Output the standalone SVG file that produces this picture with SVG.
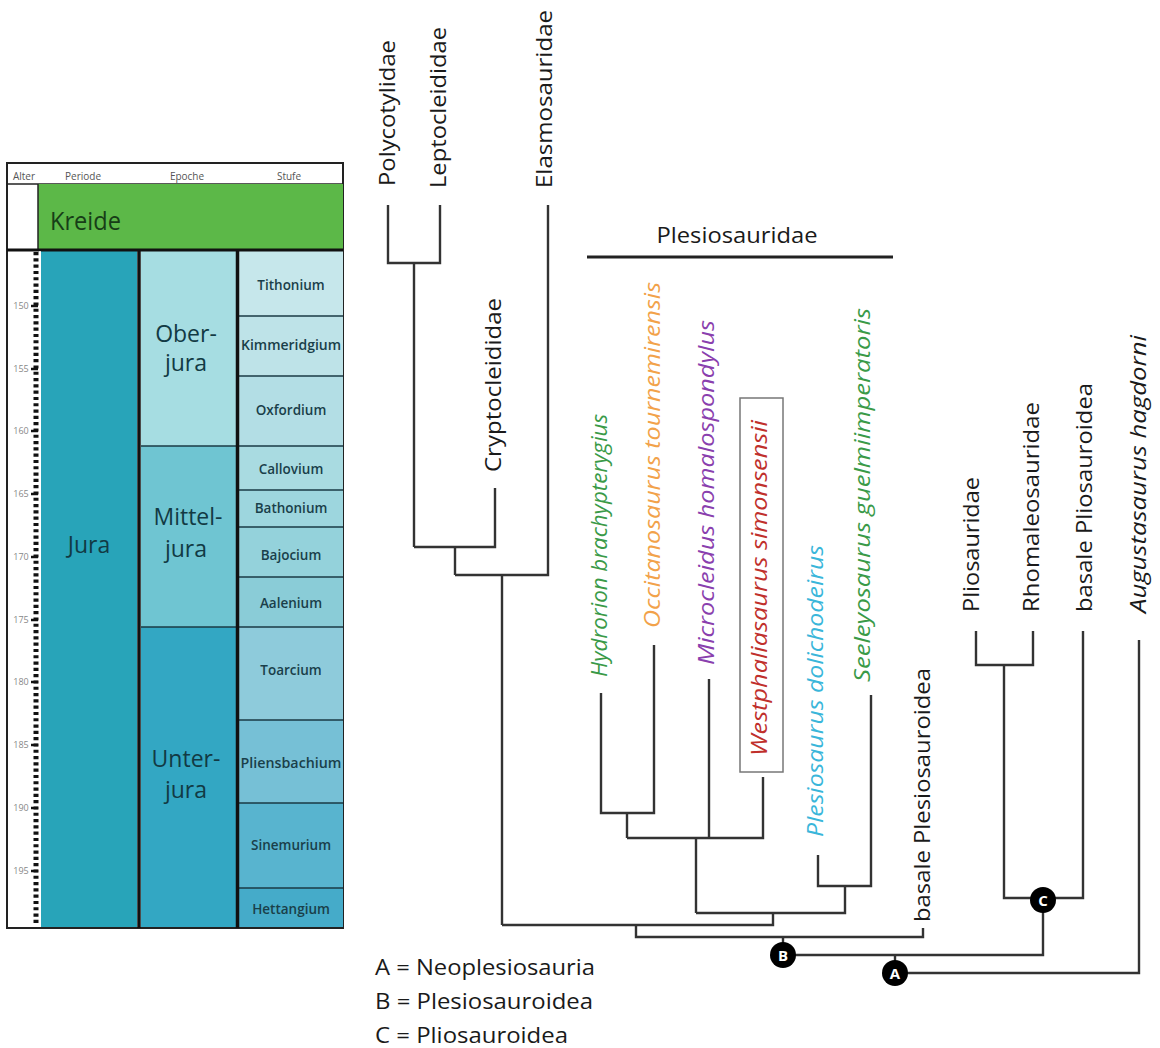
<svg xmlns="http://www.w3.org/2000/svg" width="1160" height="1048" viewBox="0 0 1160 1048">
<style>
.ts{font-family:"Open Sans","Liberation Sans",sans-serif;fill:#143c46}
.hd{font-family:"Open Sans","Liberation Sans",sans-serif;font-size:10px;fill:#555;text-anchor:middle}
.age{font-family:"Open Sans","Liberation Sans",sans-serif;font-size:9px;fill:#888;text-anchor:middle}
.st{font-family:"Open Sans","Liberation Sans",sans-serif;font-size:13.5px;font-weight:600;fill:#1a3f4a;text-anchor:middle}
.ep{font-family:"Open Sans","Liberation Sans",sans-serif;font-size:23px;fill:#123a44;text-anchor:middle}
.div{stroke:#1a3a44;stroke-width:1.5}
.lbl{font-family:"Open Sans","Liberation Sans",sans-serif;font-size:22px;fill:#1a1a1a}
.sp{font-family:"Open Sans","Liberation Sans",sans-serif;font-size:21px;font-style:italic}
.br{fill:none;stroke:#333;stroke-width:2.4}
.nd{fill:#000}
.nl{font-family:"Open Sans","Liberation Sans",sans-serif;font-size:15px;font-weight:bold;fill:#fff;text-anchor:middle}
</style>
<rect width="1160" height="1048" fill="#fff"/>

<!-- Timescale -->
<g id="timescale">
  <rect x="7" y="163" width="336" height="765" fill="#fff" stroke="#222" stroke-width="2"/>
  <text class="hd" x="24" y="180">Alter</text>
  <text class="hd" x="83" y="180">Periode</text>
  <text class="hd" x="187" y="180">Epoche</text>
  <text class="hd" x="289" y="180">Stufe</text>
  <line x1="7" y1="184" x2="343" y2="184" stroke="#222" stroke-width="1.5"/>
  <rect x="38" y="184" width="305" height="65" fill="#5cb848"/>
  <text class="ts" x="50" y="230" font-size="25" style="fill:#173d17" textLength="71" lengthAdjust="spacingAndGlyphs">Kreide</text>
  <line x1="38" y1="184" x2="38" y2="249" stroke="#222" stroke-width="1.5"/>
  <!-- Jura -->
  <rect x="41" y="251" width="96" height="676" fill="#28a4b9"/>
  <text class="ep" x="89" y="553">Jura</text>
  <!-- Epochs -->
  <rect x="141" y="251" width="95" height="195" fill="#a6dde2"/>
  <rect x="141" y="446" width="95" height="181" fill="#6fc5d2"/>
  <rect x="141" y="627" width="95" height="300" fill="#33a7c3"/>
  <text class="ep" x="186" y="342">Ober-</text>
  <text class="ep" x="186" y="371">jura</text>
  <text class="ep" x="188" y="525">Mittel-</text>
  <text class="ep" x="186" y="557">jura</text>
  <text class="ep" x="186" y="767">Unter-</text>
  <text class="ep" x="186" y="798">jura</text>
  <line class="div" x1="141" y1="446" x2="236" y2="446"/>
  <line class="div" x1="141" y1="627" x2="236" y2="627"/>
  <!-- Stages -->
  <rect x="239" y="251" width="104" height="65" fill="#c6e7eb"/>
  <rect x="239" y="316" width="104" height="60" fill="#bee3e8"/>
  <rect x="239" y="376" width="104" height="70" fill="#b3dee5"/>
  <rect x="239" y="446" width="104" height="44" fill="#a9dbe1"/>
  <rect x="239" y="490" width="104" height="37" fill="#9dd6de"/>
  <rect x="239" y="527" width="104" height="50" fill="#94d2db"/>
  <rect x="239" y="577" width="104" height="50" fill="#8accd7"/>
  <rect x="239" y="627" width="104" height="93" fill="#8ecbdb"/>
  <rect x="239" y="720" width="104" height="83" fill="#76c0d6"/>
  <rect x="239" y="803" width="104" height="85" fill="#58b4cf"/>
  <rect x="239" y="888" width="104" height="39" fill="#45abc9"/>
  <line class="div" x1="239" y1="316" x2="343" y2="316"/>
  <line class="div" x1="239" y1="376" x2="343" y2="376"/>
  <line class="div" x1="239" y1="446" x2="343" y2="446"/>
  <line class="div" x1="239" y1="490" x2="343" y2="490"/>
  <line class="div" x1="239" y1="527" x2="343" y2="527"/>
  <line class="div" x1="239" y1="577" x2="343" y2="577"/>
  <line class="div" x1="239" y1="627" x2="343" y2="627"/>
  <line class="div" x1="239" y1="720" x2="343" y2="720"/>
  <line class="div" x1="239" y1="803" x2="343" y2="803"/>
  <line class="div" x1="239" y1="888" x2="343" y2="888"/>
  <text class="st" x="291" y="290">Tithonium</text>
  <text class="st" x="291" y="350" textLength="100" lengthAdjust="spacingAndGlyphs">Kimmeridgium</text>
  <text class="st" x="291" y="415">Oxfordium</text>
  <text class="st" x="291" y="474">Callovium</text>
  <text class="st" x="291" y="513">Bathonium</text>
  <text class="st" x="291" y="560">Bajocium</text>
  <text class="st" x="291" y="608">Aalenium</text>
  <text class="st" x="291" y="675">Toarcium</text>
  <text class="st" x="291" y="768" textLength="101" lengthAdjust="spacingAndGlyphs">Pliensbachium</text>
  <text class="st" x="291" y="850">Sinemurium</text>
  <text class="st" x="291" y="914">Hettangium</text>
  <!-- dividers -->
  <line x1="139" y1="249" x2="139" y2="928" stroke="#111" stroke-width="3.5"/>
  <line x1="237.5" y1="249" x2="237.5" y2="928" stroke="#111" stroke-width="3.5"/>
  <line x1="7" y1="250" x2="343" y2="250" stroke="#111" stroke-width="3"/>
  <line x1="40" y1="251" x2="40" y2="927" stroke="#fff" stroke-width="1.5"/>
  <!-- age ticks -->
  <line x1="36" y1="252" x2="36" y2="926" stroke="#111" stroke-width="5" stroke-dasharray="3.15 3.15"/>
  <g stroke="#111" stroke-width="2.5">
    <line x1="31" y1="306" x2="38" y2="306"/>
    <line x1="31" y1="369" x2="38" y2="369"/>
    <line x1="31" y1="431" x2="38" y2="431"/>
    <line x1="31" y1="494" x2="38" y2="494"/>
    <line x1="31" y1="557" x2="38" y2="557"/>
    <line x1="31" y1="620" x2="38" y2="620"/>
    <line x1="31" y1="682" x2="38" y2="682"/>
    <line x1="31" y1="745" x2="38" y2="745"/>
    <line x1="31" y1="808" x2="38" y2="808"/>
    <line x1="31" y1="871" x2="38" y2="871"/>
  </g>
  <text class="age" x="21" y="309">150</text>
  <text class="age" x="21" y="372">155</text>
  <text class="age" x="21" y="434">160</text>
  <text class="age" x="21" y="497">165</text>
  <text class="age" x="21" y="560">170</text>
  <text class="age" x="21" y="623">175</text>
  <text class="age" x="21" y="685">180</text>
  <text class="age" x="21" y="748">185</text>
  <text class="age" x="21" y="811">190</text>
  <text class="age" x="21" y="874">195</text>
</g>

<!-- Connectors -->
<g id="connectors">
  <path class="br" d="M388,205 V263 H440 V205"/>
  <path class="br" d="M414,263 V547"/>
  <path class="br" d="M495,488 V547 H414"/>
  <path class="br" d="M455,547 V575"/>
  <path class="br" d="M548,205 V575 H455"/>
  <path class="br" d="M502,575 V925"/>
  <path class="br" d="M601,693 V813 H654 V645"/>
  <path class="br" d="M627,813 V838"/>
  <path class="br" d="M709,679 V838"/>
  <path class="br" d="M763,777 V838 H627"/>
  <path class="br" d="M696,838 V913"/>
  <path class="br" d="M818,855 V886 H871 V695"/>
  <path class="br" d="M845,886 V913 H696"/>
  <path class="br" d="M773,913 V925 H502"/>
  <path class="br" d="M636,925 V937 H923 V928"/>
  <path class="br" d="M783,937 V955"/>
  <path class="br" d="M783,955 H1043 V900"/>
  <path class="br" d="M895,955 V973"/>
  <path class="br" d="M895,973 H1139 V640"/>
  <path class="br" d="M976,631 V665 H1033 V631"/>
  <path class="br" d="M1004,665 V898 H1083 V631"/>
  <path d="M587,257 H893" stroke="#222" stroke-width="2.8"/>
</g>

<!-- Clade nodes -->
<g id="node-A"><circle class="nd" cx="895" cy="973" r="13"/><text class="nl" x="895" y="978.5">A</text></g>
<g id="node-B"><circle class="nd" cx="783" cy="955" r="13"/><text class="nl" x="783" y="960.5">B</text></g>
<g id="node-C"><circle class="nd" cx="1043" cy="900" r="13"/><text class="nl" x="1043" y="905.5">C</text></g>

<!-- Taxon labels -->
<g id="t-polycotylidae"><text class="lbl" transform="translate(395,186) rotate(-90)" textLength="146" lengthAdjust="spacingAndGlyphs">Polycotylidae</text></g>
<g id="t-leptocleididae"><text class="lbl" transform="translate(446,188) rotate(-90)" textLength="161" lengthAdjust="spacingAndGlyphs">Leptocleididae</text></g>
<g id="t-elasmosauridae"><text class="lbl" transform="translate(552,188) rotate(-90)" textLength="178" lengthAdjust="spacingAndGlyphs">Elasmosauridae</text></g>
<g id="t-cryptocleididae"><text class="lbl" transform="translate(501,472) rotate(-90)" textLength="174" lengthAdjust="spacingAndGlyphs">Cryptocleididae</text></g>
<g id="t-plesiosauridae"><text class="lbl" x="737" y="243" text-anchor="middle" textLength="161" lengthAdjust="spacingAndGlyphs">Plesiosauridae</text></g>
<g id="t-hydrorion"><text class="sp" fill="#3a9a48" transform="translate(607,677) rotate(-90)" textLength="263" lengthAdjust="spacingAndGlyphs">Hydrorion brachypterygius</text></g>
<g id="t-occitanosaurus"><text class="sp" fill="#f2a24a" transform="translate(660,628) rotate(-90)" textLength="346" lengthAdjust="spacingAndGlyphs">Occitanosaurus tournemirensis</text></g>
<g id="t-microcleidus"><text class="sp" fill="#8a3fae" transform="translate(714,665) rotate(-90)" textLength="345" lengthAdjust="spacingAndGlyphs">Microcleidus homalospondylus</text></g>
<g id="t-westphaliasaurus">
  <rect x="740" y="398" width="43" height="374" fill="none" stroke="#777" stroke-width="1.5"/>
  <text class="sp" fill="#c0302c" transform="translate(767,756) rotate(-90)" textLength="336" lengthAdjust="spacingAndGlyphs">Westphaliasaurus simonsensii</text>
</g>
<g id="t-plesiosaurus"><text class="sp" fill="#3ab6da" transform="translate(823,837) rotate(-90)" textLength="292" lengthAdjust="spacingAndGlyphs">Plesiosaurus dolichodeirus</text></g>
<g id="t-seeleyosaurus"><text class="sp" fill="#3a9a48" transform="translate(870,682) rotate(-90)" textLength="374" lengthAdjust="spacingAndGlyphs">Seeleyosaurus guelmiimperatoris</text></g>
<g id="t-basal-plesiosauroidea"><text class="lbl" transform="translate(930,922) rotate(-90)" textLength="254" lengthAdjust="spacingAndGlyphs">basale Plesiosauroidea</text></g>
<g id="t-pliosauridae"><text class="lbl" transform="translate(979,612) rotate(-90)" textLength="135" lengthAdjust="spacingAndGlyphs">Pliosauridae</text></g>
<g id="t-rhomaleosauridae"><text class="lbl" transform="translate(1039,612) rotate(-90)" textLength="210" lengthAdjust="spacingAndGlyphs">Rhomaleosauridae</text></g>
<g id="t-basal-pliosauroidea"><text class="lbl" transform="translate(1092,612) rotate(-90)" textLength="229" lengthAdjust="spacingAndGlyphs">basale Pliosauroidea</text></g>
<g id="t-augustasaurus"><text class="sp" fill="#1a1a1a" transform="translate(1146,613) rotate(-90)" textLength="278" lengthAdjust="spacingAndGlyphs">Augustasaurus hagdorni</text></g>

<!-- Legend -->
<g id="legend">
  <text class="lbl" x="375" y="975" textLength="220" lengthAdjust="spacingAndGlyphs">A = Neoplesiosauria</text>
  <text class="lbl" x="375" y="1009" textLength="218" lengthAdjust="spacingAndGlyphs">B = Plesiosauroidea</text>
  <text class="lbl" x="375" y="1043" textLength="193" lengthAdjust="spacingAndGlyphs">C = Pliosauroidea</text>
</g>
</svg>
